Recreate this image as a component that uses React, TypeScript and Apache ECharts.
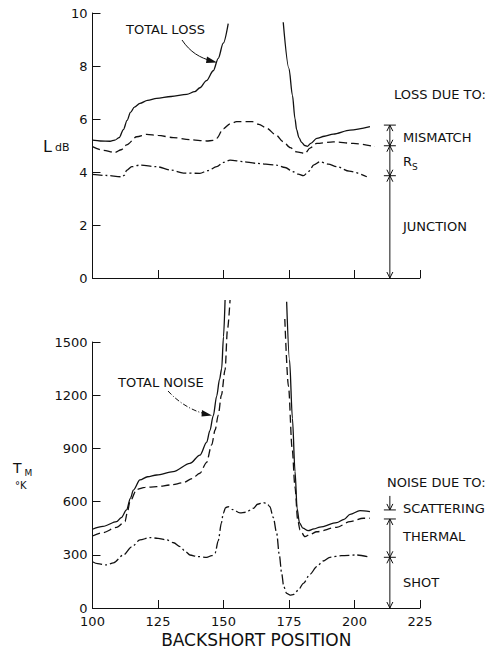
import React, { useEffect, useRef } from "react";
import * as echarts from "echarts";

// ---------- DATA ----------
// Top panel: loss (dB) vs backshort position
const totalLossLeft: number[][] = [
  [100, 5.2], [103, 5.17], [106.7, 5.16], [108.5, 5.2], [110.2, 5.3], [111.8, 5.6], [113.2, 5.95], [114.5, 6.25],
  [116, 6.45], [118.1, 6.59], [121, 6.7], [124.5, 6.78], [130, 6.85], [136, 6.93], [139, 7.03], [141, 7.18],
  [143.5, 7.45], [146.1, 7.82], [148, 8.29], [149.9, 8.86], [151.8, 9.6],
];
const totalLossRight: number[][] = [
  [172.8, 9.65], [175, 7.9], [176.3, 6.9], [177.3, 6.0], [177.9, 5.6], [178.8, 5.3], [179.8, 5.12], [181, 5.0],
  [182, 4.97], [183.3, 5.08], [185.6, 5.27], [188.5, 5.35], [191.9, 5.43], [198.3, 5.58], [205.9, 5.71],
];
const mismatchLine: number[][] = [
  [100, 4.96], [104, 4.82], [108.6, 4.74], [111, 4.84], [113, 5.02], [116.9, 5.33], [120.7, 5.42], [125, 5.38],
  [130.8, 5.3], [137, 5.22], [143.6, 5.17], [146, 5.19], [147.4, 5.27], [149.9, 5.63], [152.5, 5.82], [155, 5.9],
  [161, 5.9], [163.5, 5.8], [166.5, 5.65], [170, 5.4], [172.8, 5.14], [175.5, 4.92], [177.9, 4.76], [181.1, 4.7],
  [183, 4.9], [185.6, 5.08], [191.9, 5.14], [199.5, 5.08], [207.8, 4.96],
];
const rsLine: number[][] = [
  [100, 3.91], [105, 3.87], [111.3, 3.82], [112.2, 3.88], [113, 4.06], [115, 4.2], [118.1, 4.26], [124.5, 4.2],
  [130, 4.07], [134.7, 3.96], [141, 3.95], [144, 4.05], [147.4, 4.2], [150, 4.36], [152.5, 4.45], [157.6, 4.39],
  [162, 4.33], [170.3, 4.26], [173.5, 4.17], [176.6, 4.01], [178.5, 3.92], [180.5, 3.86], [182.5, 4.02],
  [184.5, 4.27], [186.8, 4.39], [190, 4.3], [193.2, 4.2], [198, 4.03], [204.7, 3.82],
];

// Bottom panel: mixer noise temperature (K) vs backshort position
const totalNoiseLeft: number[][] = [
  [100, 444], [104, 460], [109.2, 487], [111, 510], [113, 553], [114.5, 620], [115.6, 665], [118.1, 722],
  [121, 740], [124.5, 750], [130.8, 769], [137.2, 816], [141, 862], [143.6, 935], [144.8, 1000], [146.1, 1085],
  [147.4, 1195], [148.5, 1290], [149.3, 1350], [150, 1530], [150.6, 1737],
];
const totalNoiseRight: number[][] = [
  [174.1, 1727], [175.2, 1400], [176.3, 1070], [177.3, 770], [178.1, 560], [179, 480], [180.3, 450],
  [182.3, 436], [184.5, 446], [186.8, 456], [193.2, 481], [196, 500], [198.3, 528], [202.1, 549], [205.9, 543],
];
const thermalLeft: number[][] = [
  [100, 406], [104, 425], [109.2, 455], [112.4, 487], [113.3, 540], [114.3, 600], [116.9, 669], [120, 680],
  [124.5, 684], [130, 694], [134.7, 707], [138, 730], [141, 760], [143.5, 820], [145.5, 920], [146.8, 1004],
  [148, 1088], [149.2, 1200], [150.6, 1342], [151.5, 1568], [152.5, 1737],
];
const thermalRight: number[][] = [
  [173.4, 1630], [174.8, 1250], [176.2, 900], [177.3, 680], [178.3, 500], [179.2, 440], [181.1, 402],
  [183, 415], [185.6, 430], [193.2, 455], [198.3, 487], [203.4, 506], [205.9, 506],
];
const shotLine: number[][] = [
  [100, 261], [102, 250], [105.4, 243], [108, 255], [111.8, 299], [115, 345], [118.1, 384], [121.9, 397],
  [125, 393], [128.3, 384], [131, 368], [133.4, 346], [135.5, 318], [137.2, 299], [140, 290], [143.6, 286],
  [145.5, 295], [146.8, 310], [148, 380], [149.2, 480], [149.9, 534], [150.8, 566], [151.8, 571], [153.5, 555],
  [156.3, 536], [158.5, 540], [161.4, 562], [163, 585], [165.2, 594], [166.7, 588], [167.7, 571], [169, 510],
  [170.3, 421], [171.3, 300], [172.2, 196], [173, 120], [174.1, 83], [175.5, 73], [176.6, 75], [178.5, 100],
  [180.5, 139], [183, 190], [185.6, 233], [188, 265], [190.6, 286], [195, 295], [200.8, 299], [205.9, 286],
];

// Bracket annotations (value boundaries at x = annotationX)
const annotationX = 213.5;
const lossBoundaries = [0, 3.86, 4.99, 5.77];
const noiseBoundaries = [0, 286, 502, 553];

const FONT = "DejaVu Sans";
const INK = "#111";

function arrowHead(x: number, y: number, dir: number) {
  // dir = -1 pointing up, +1 pointing down
  return {
    type: "polyline",
    shape: { points: [[x - 3, y - dir * 6], [x, y], [x + 3, y - dir * 6]] },
    style: { stroke: INK, lineWidth: 1, fill: "none" },
  };
}
function vline(x: number, y1: number, y2: number) {
  return { type: "line", shape: { x1: x, y1, x2: x, y2 }, style: { stroke: INK, lineWidth: 1 } };
}
function hbar(x: number, y: number) {
  return { type: "line", shape: { x1: x - 6, y1: y, x2: x + 6, y2: y }, style: { stroke: INK, lineWidth: 1 } };
}

export default function App() {
  const ref = useRef<HTMLDivElement>(null);
  useEffect(() => {
    if (!ref.current) return;
    const chart = echarts.init(ref.current, undefined, { renderer: "svg" });

    const lineSeries = (data: number[][], idx: number, type: any, width = 1.3) => ({
      type: "line",
      data,
      xAxisIndex: idx,
      yAxisIndex: idx,
      showSymbol: false,
      symbol: "none",
      smooth: 0.3,
      smoothMonotone: "x",
      clip: false,
      silent: true,
      lineStyle: { color: INK, width, type },
    });

    const dashed = [8, 4];
    const dashDot = [10, 3, 2, 3];

    const axisCommonX = {
      type: "value",
      min: 100,
      max: 225,
      interval: 25,
      axisLine: { lineStyle: { color: INK, width: 1 } },
      axisTick: { inside: true, length: 8, lineStyle: { color: INK } },
      splitLine: { show: false },
    };
    const axisCommonY = {
      type: "value",
      axisLine: { show: true, lineStyle: { color: INK, width: 1 } },
      axisTick: { show: true, inside: true, length: 8, lineStyle: { color: INK } },
      splitLine: { show: false },
      axisLabel: { color: INK, fontSize: 13, fontFamily: FONT, margin: 5, formatter: (v: number) => String(v) },
    };

    const annotation = (idx: number, bounds: number[], mode: "loss" | "noise") => ({
      type: "custom",
      xAxisIndex: idx,
      yAxisIndex: idx,
      silent: true,
      clip: false,
      data: [[annotationX, 0]],
      renderItem: (_p: any, api: any) => {
        const x = api.coord([annotationX, 0])[0];
        const py = (v: number) => api.coord([annotationX, v])[1];
        const ch: any[] = [];
        if (mode === "loss") {
          for (let i = 0; i < bounds.length - 1; i++) {
            const yb = py(bounds[i]);
            const yt = py(bounds[i + 1]);
            ch.push(vline(x, yb, yt));
            ch.push(arrowHead(x, yb, 1));
            ch.push(arrowHead(x, yt, -1));
          }
          for (let i = 1; i < bounds.length; i++) ch.push(hbar(x, py(bounds[i])));
        } else {
          for (let i = 0; i < 2; i++) {
            const yb = py(bounds[i]);
            const yt = py(bounds[i + 1]);
            ch.push(vline(x, yb, yt));
            ch.push(arrowHead(x, yb, 1));
            ch.push(arrowHead(x, yt, -1));
          }
          ch.push(hbar(x, py(bounds[1])));
          ch.push(hbar(x, py(bounds[2])));
          const ys = py(bounds[3]);
          ch.push(hbar(x, ys));
          ch.push(vline(x, ys - 14, ys));
          ch.push(arrowHead(x, ys, 1));
        }
        return { type: "group", children: ch };
      },
    });

    const txt = (text: string, x: number, y: number, size = 13) => ({
      type: "text",
      x,
      y,
      style: { text, fill: INK, font: `${size}px "${FONT}"`, align: "left", verticalAlign: "middle" },
    });

    chart.setOption({
      animation: false,
      backgroundColor: "#fff",
      grid: [
        { left: 92.5, top: 13, width: 327.5, height: 265 },
        { left: 92.5, top: 342, width: 327.5, height: 266 },
      ],
      xAxis: [
        { ...axisCommonX, gridIndex: 0, axisLabel: { show: false } },
        {
          ...axisCommonX,
          gridIndex: 1,
          axisLabel: { color: INK, fontSize: 13, fontFamily: FONT, margin: 7 },
          name: "BACKSHORT POSITION",
          nameLocation: "middle",
          nameGap: 23,
          nameTextStyle: { color: INK, fontSize: 17, fontFamily: FONT },
        },
      ],
      yAxis: [
        { ...axisCommonY, gridIndex: 0, min: 0, max: 10, interval: 2 },
        { ...axisCommonY, gridIndex: 1, min: 0, max: 1500, interval: 300 },
      ],
      series: [
        lineSeries(totalLossLeft, 0, "solid"),
        lineSeries(totalLossRight, 0, "solid"),
        lineSeries(mismatchLine, 0, dashed),
        lineSeries(rsLine, 0, dashDot),
        lineSeries(totalNoiseLeft, 1, "solid"),
        lineSeries(totalNoiseRight, 1, "solid"),
        lineSeries(thermalLeft, 1, dashed),
        lineSeries(thermalRight, 1, dashed),
        lineSeries(shotLine, 1, dashDot),
        annotation(0, lossBoundaries, "loss"),
        annotation(1, noiseBoundaries, "noise"),
      ],
      graphic: [
        txt("TOTAL LOSS", 126, 29),
        {
          type: "bezierCurve",
          shape: { x1: 182, y1: 40, cpx1: 190, cpy1: 52, cpx2: 200, cpy2: 58, x2: 212, y2: 61 },
          style: { stroke: INK, lineWidth: 1, fill: "none" },
        },
        {
          type: "polygon",
          shape: { points: [[217, 62.5], [207, 56.5], [206, 63]] },
          style: { fill: INK },
        },
        txt("LOSS DUE TO:", 394, 94),
        txt("MISMATCH", 403, 137),
        txt("R", 403, 161, 13),
        txt("S", 412, 167, 9),
        txt("JUNCTION", 403, 226),
        txt("L", 43, 146, 16),
        txt("dB", 55, 147.5, 11),
        txt("TOTAL NOISE", 118, 382.5),
        {
          type: "bezierCurve",
          shape: { x1: 168, y1: 391, cpx1: 178, cpy1: 402, cpx2: 192, cpy2: 411, x2: 206, y2: 414 },
          style: { stroke: INK, lineWidth: 1, fill: "none", lineDash: [5, 2, 1, 2] },
        },
        {
          type: "polygon",
          shape: { points: [[212, 415.5], [202, 410], [201.5, 416.5]] },
          style: { fill: INK },
        },
        txt("NOISE DUE TO:", 387, 482),
        txt("SCATTERING", 403, 508),
        txt("THERMAL", 403, 536),
        txt("SHOT", 403, 582),
        txt("T", 13, 468, 14),
        txt("M", 24.5, 473, 9),
        txt("°K", 15, 485, 10),
      ],
    });
    return () => chart.dispose();
  }, []);
  return (
    <div
      ref={ref}
      style={{ position: "fixed", left: 0, top: 0, width: 499, height: 651, background: "#fff" }}
    />
  );
}
